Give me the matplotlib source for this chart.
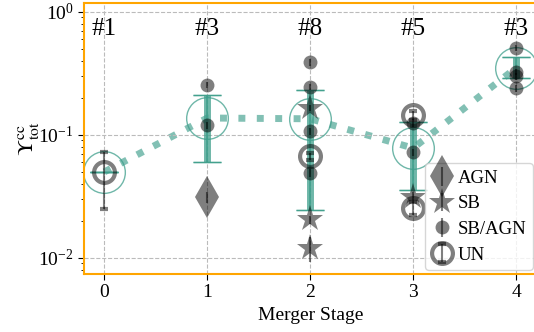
import matplotlib
matplotlib.use("Agg")
import matplotlib.pyplot as plt
import numpy as np

plt.rcParams['font.family'] = ['Liberation Serif', 'DejaVu Serif']
plt.rcParams['mathtext.fontset'] = 'stix'

# per-galaxy values, grouped by class
agn_stage = [1]
agn_val = [0.031]
agn_lo = [0.003]
agn_hi = [0.003]

sb_stage = [2, 2, 2, 3]
sb_val = [0.165, 0.0205, 0.0121, 0.031]
sb_lo = [0.010, 0.0015, 0.0028, 0.003]
sb_hi = [0.010, 0.0015, 0.0027, 0.003]

sbagn_stage = [1, 1, 2, 2, 2, 2, 3, 3, 4, 4, 4, 4]
sbagn_val = [0.255, 0.120, 0.390, 0.245, 0.107, 0.049, 0.125, 0.072, 0.510, 0.325, 0.300, 0.240]
sbagn_lo = [0.015, 0.008, 0.025, 0.015, 0.007, 0.004, 0.010, 0.005, 0.030, 0.020, 0.020, 0.015]
sbagn_hi = [0.015, 0.008, 0.025, 0.015, 0.007, 0.004, 0.010, 0.005, 0.030, 0.020, 0.020, 0.015]

un_stage = [0, 2, 3, 3]
un_val = [0.050, 0.067, 0.145, 0.0255]
un_lo = [0.025, 0.004, 0.012, 0.003]
un_hi = [0.023, 0.004, 0.012, 0.003]

# stage means and their spread
stages = [0, 1, 2, 3, 4]
mean_val = [0.050, 0.137, 0.135, 0.078, 0.350]
mean_low = [0.050, 0.0605, 0.0246, 0.0357, 0.290]
mean_high = [0.050, 0.211, 0.232, 0.128, 0.430]
counts = [1, 3, 8, 5, 3]

teal = '#3f9f8c'

fig = plt.figure(figsize=(5.34, 3.32), dpi=100)
ax = fig.add_axes([0.157, 0.175, 0.848, 0.816])
ax.set_yscale('log')

# stage means
mean_val = np.array(mean_val)
yerr = [mean_val - np.array(mean_low), np.array(mean_high) - mean_val]
ax.plot(stages, mean_val, ':', color=teal, lw=5, alpha=0.65, zorder=1)
ax.errorbar(stages, mean_val, yerr=yerr, fmt='o', ms=30, mfc='none', mec=teal,
            mew=1.0, ecolor=teal, elinewidth=5, capsize=10, capthick=1.2,
            alpha=0.75, zorder=2)
ax.errorbar(stages, mean_val, yerr=yerr, fmt='none', ecolor=teal,
            elinewidth=1.2, capsize=10, capthick=1.0, alpha=0.9, zorder=2)

grey = dict(color='k', alpha=0.5, ecolor='k', elinewidth=1.5, capsize=3,
            capthick=1.2, ls='none', zorder=3)
ax.errorbar(agn_stage, agn_val, yerr=[agn_lo, agn_hi], marker='d', ms=21,
            mew=0, label='AGN', **grey)
ax.errorbar(sb_stage, sb_val, yerr=[sb_lo, sb_hi], marker='*', ms=20,
            mew=0, label='SB', **grey)
ax.errorbar(sbagn_stage, sbagn_val, yerr=[sbagn_lo, sbagn_hi], marker='o',
            ms=10, mew=0, label='SB/AGN', **grey)
ax.errorbar(un_stage, un_val, yerr=[un_lo, un_hi], marker='o', ms=15,
            mfc='none', mew=3, label='UN', **grey)

for s, n in zip(stages, counts):
    ax.text(s, 0.73, '#%d' % n, ha='center', va='center', fontsize=18)

ax.set_xlim(-0.2, 4.2)
ax.set_ylim(0.0074, 1.18)
ax.set_xticks(stages)
ax.set_xlabel('Merger Stage', fontsize=14, labelpad=4)
ax.set_ylabel(r'$\Upsilon^{\rm cc}_{\rm tot}$', fontsize=16, labelpad=-2)
ax.tick_params(labelsize=14, length=4)
ax.tick_params(which='minor', length=2.5)
ax.grid(True, which='major', ls='--', color='#bbbbbb', lw=0.8)

for sp in ax.spines.values():
    sp.set_color('orange')
    sp.set_linewidth(1.5)

ax.legend(loc='lower right', fontsize=13.5, handlelength=1.1, handletextpad=0.3,
          borderpad=0.35, labelspacing=0.45, borderaxespad=0.2, framealpha=0.8)

fig.savefig('out.png', dpi=100)
